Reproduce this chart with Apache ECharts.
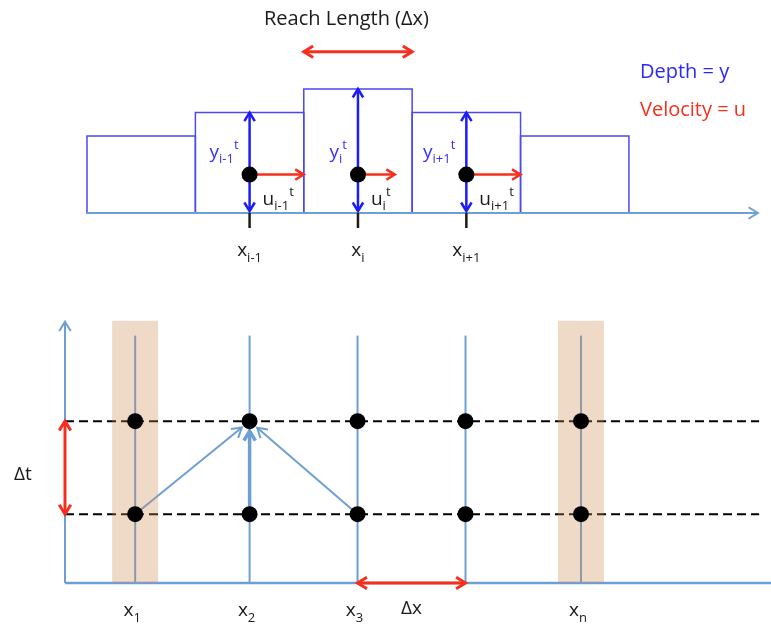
<!DOCTYPE html>
<html>
<head>
<meta charset="utf-8">
<script src="https://cdn.jsdelivr.net/npm/echarts@6/dist/echarts.min.js"></script>
<style>
  html, body { margin: 0; padding: 0; background: #fff; }
  #main { width: 771px; height: 624px; }
</style>
</head>
<body>
<div id="main"></div>
<script>
// --- top sketch: reach split into cells (x in cell widths, y in depth units)
const cellCenters = [0, 1, 2, 3, 4];
const cellDepths = [0.62, 0.81, 1.0, 0.81, 0.62];
const nodeCells = [1, 2, 3];
const nodeVelocities = [0.5, 0.34, 0.5];
const nodeHeight = 0.31;
const nodeNames = ['i-1', 'i', 'i+1'];
const reachSpan = [1.5, 2.5];
const reachLevel = 1.3;
const channelAxis = [-0.5, 5.69];

// --- bottom sketch: x-t grid (x in reach lengths, y in time steps)
const gridX = [0.65, 1.71, 2.71, 3.71, 4.78];
const gridXNames = ['1', '2', '3', '', 'n'];
const timeLevels = [0.74, 1.74];
const boundaryNodes = [0, 4];
const stencilFrom = [0, 1, 2];
const stencilTo = 1;
const gridLineTop = 2.66;
const bandTop = 2.82;
const timeAxisTop = 2.81;
const timeLineEnd = 6.43;
const dxNodes = [2, 3];

const FONT = '"Open Sans", sans-serif';
const BOX = '#4a4af2';
const DEPTH = '#1c1cf5';
const RED = '#f42f1d';
const AXIS = '#6e9fd4';
const BAND = 'rgba(205,140,85,0.32)';
const INK = '#1a1a1a';

var dom = document.getElementById('main');
var myChart = echarts.init(dom);

function seg(p0, p1, color, w, dash) {
  return {
    type: 'line',
    shape: { x1: p0[0], y1: p0[1], x2: p1[0], y2: p1[1] },
    style: { stroke: color, lineWidth: w, lineDash: dash || null }
  };
}
function head(tip, from, color, w, len) {
  const a = Math.atan2(tip[1] - from[1], tip[0] - from[0]);
  const s = 0.55;
  return {
    type: 'polyline',
    shape: { points: [
      [tip[0] - len * Math.cos(a - s), tip[1] - len * Math.sin(a - s)],
      [tip[0], tip[1]],
      [tip[0] - len * Math.cos(a + s), tip[1] - len * Math.sin(a + s)]
    ] },
    style: { stroke: color, lineWidth: w, fill: null }
  };
}
function arrow(p0, p1, color, w, len, both) {
  const out = [seg(p0, p1, color, w), head(p1, p0, color, w, len)];
  if (both) out.push(head(p0, p1, color, w, len));
  return out;
}
function shorten(p0, p1, d) {
  const dx = p1[0] - p0[0], dy = p1[1] - p0[1];
  const L = Math.sqrt(dx * dx + dy * dy);
  return [p1[0] - dx / L * d, p1[1] - dy / L * d];
}
function richFor(color, big, small) {
  return {
    b: { font: big + 'px ' + FONT, fill: color, lineHeight: big + 8 },
    sub: { font: small + 'px ' + FONT, fill: color, verticalAlign: 'bottom' },
    sup: { font: small + 'px ' + FONT, fill: color, verticalAlign: 'top' }
  };
}
function label(text, x, y, align, color) {
  return {
    type: 'text', x: x, y: y,
    style: {
      text: text, rich: richFor(color, 19, 13), fill: color,
      font: '19px ' + FONT, align: align, verticalAlign: 'middle'
    }
  };
}

var option = {
  animation: false,
  backgroundColor: '#fff',
  grid: [
    { left: 87, top: 39.4, width: 672, height: 223.2 },
    { left: 65, top: 313.3, width: 706, height: 269.7 }
  ],
  xAxis: [
    { type: 'value', gridIndex: 0, min: -0.5, max: 5.7, show: false },
    { type: 'value', gridIndex: 1, min: 0, max: 6.54, show: false }
  ],
  yAxis: [
    { type: 'value', gridIndex: 0, min: -0.4, max: 1.4, show: false },
    { type: 'value', gridIndex: 1, min: 0, max: 2.9, show: false }
  ],
  graphic: [
    { type: 'text', left: 264, top: 9,
      style: { text: 'Reach Length (\u0394x)', font: '20px ' + FONT, fill: INK } },
    { type: 'text', left: 640, top: 62,
      style: { text: 'Depth = y', font: '20px ' + FONT, fill: '#2a2af7' } },
    { type: 'text', left: 640, top: 100,
      style: { text: 'Velocity = u', font: '20px ' + FONT, fill: RED } }
  ],
  series: [
    // cells
    {
      type: 'custom', xAxisIndex: 0, yAxisIndex: 0,
      data: cellCenters.map((c, i) => [c, cellDepths[i]]),
      renderItem: function (params, api) {
        const tl = api.coord([api.value(0) - 0.5, api.value(1)]);
        const br = api.coord([api.value(0) + 0.5, 0]);
        return {
          type: 'rect',
          shape: { x: tl[0], y: tl[1], width: br[0] - tl[0], height: br[1] - tl[1] },
          style: { fill: null, stroke: BOX, lineWidth: 1.5 }
        };
      }
    },
    // channel axis + reach length arrow
    {
      type: 'custom', xAxisIndex: 0, yAxisIndex: 0,
      data: [[channelAxis[0], channelAxis[1]]],
      renderItem: function (params, api) {
        const a = api.coord([channelAxis[0], 0]);
        const b = api.coord([channelAxis[1], 0]);
        const r0 = api.coord([reachSpan[0], reachLevel]);
        const r1 = api.coord([reachSpan[1], reachLevel]);
        return {
          type: 'group',
          children: arrow(a, b, AXIS, 2, 11, false)
            .concat(arrow(r0, r1, RED, 3, 11, true))
        };
      }
    },
    // nodes of the reach
    {
      type: 'custom', xAxisIndex: 0, yAxisIndex: 0,
      data: nodeCells.map((c, i) => [c, nodeHeight, nodeVelocities[i]]),
      renderItem: function (params, api) {
        const i = params.dataIndex;
        const c = nodeCells[i];
        const base = api.coord([c, 0]);
        const top = api.coord([c, cellDepths[c]]);
        const dot = api.coord([c, nodeHeight]);
        const vel = api.coord([c + nodeVelocities[i], nodeHeight]);
        let kids = [seg(base, [base[0], base[1] + 15], INK, 2.5)];
        kids = kids.concat(arrow([base[0], base[1] - 2], top, DEPTH, 2.5, 10, true));
        kids = kids.concat(arrow(dot, vel, RED, 2.5, 10, false));
        kids.push({ type: 'circle', shape: { cx: dot[0], cy: dot[1], r: 8 }, style: { fill: '#000' } });
        kids.push(label('{b|y}{sub|' + nodeNames[i] + '}{sup|t}', dot[0] - 11, dot[1] - 22, 'right', '#3434f2'));
        kids.push(label('{b|u}{sub|' + nodeNames[i] + '}{sup|t}', dot[0] + 13, dot[1] + 25, 'left', INK));
        kids.push(label('{b|x}{sub|' + nodeNames[i] + '}', dot[0], base[1] + 38, 'center', INK));
        return { type: 'group', children: kids };
      }
    },
    // x-t axes and grid lines
    {
      type: 'custom', xAxisIndex: 1, yAxisIndex: 1,
      data: gridX.map(x => [x, gridLineTop]),
      renderItem: function (params, api) {
        const b = api.coord([api.value(0), 0]);
        const t = api.coord([api.value(0), api.value(1)]);
        return seg(b, t, AXIS, 2);
      }
    },
    {
      type: 'custom', xAxisIndex: 1, yAxisIndex: 1,
      data: [[0, timeAxisTop]],
      renderItem: function (params, api) {
        const o = api.coord([0, 0]);
        const t = api.coord([0, timeAxisTop]);
        const r = api.coord([6.54, 0]);
        return {
          type: 'group',
          children: [seg(o, r, AXIS, 2.5)].concat(arrow(o, t, AXIS, 2, 11, false))
        };
      }
    },
    // time levels
    {
      type: 'custom', xAxisIndex: 1, yAxisIndex: 1,
      data: timeLevels.map(t => [0, t]),
      renderItem: function (params, api) {
        const a = api.coord([0, api.value(1)]);
        const b = api.coord([timeLineEnd, api.value(1)]);
        return seg(a, b, '#000', 2, [9, 5]);
      }
    },
    // stencil
    {
      type: 'custom', xAxisIndex: 1, yAxisIndex: 1,
      data: stencilFrom.map(k => [gridX[k], timeLevels[0]]),
      renderItem: function (params, api) {
        const p0 = api.coord([api.value(0), api.value(1)]);
        const p1 = api.coord([gridX[stencilTo], timeLevels[1]]);
        const end = shorten(p0, p1, 10);
        const w = Math.abs(p1[0] - p0[0]) < 1 ? 3.5 : 2;
        return { type: 'group', children: arrow(p0, end, AXIS, w, 11, false) };
      }
    },
    // boundary bands
    {
      type: 'custom', xAxisIndex: 1, yAxisIndex: 1,
      data: boundaryNodes.map(k => [gridX[k], bandTop]),
      renderItem: function (params, api) {
        const t = api.coord([api.value(0), api.value(1)]);
        const b = api.coord([api.value(0), 0]);
        return {
          type: 'rect',
          shape: { x: t[0] - 23, y: t[1], width: 46, height: b[1] - t[1] },
          style: { fill: BAND }
        };
      }
    },
    // grid nodes
    {
      type: 'custom', xAxisIndex: 1, yAxisIndex: 1,
      data: timeLevels.flatMap(t => gridX.map(x => [x, t])),
      renderItem: function (params, api) {
        const p = api.coord([api.value(0), api.value(1)]);
        return { type: 'circle', shape: { cx: p[0], cy: p[1], r: 8 }, style: { fill: '#000' } };
      }
    },
    // dt and dx
    {
      type: 'custom', xAxisIndex: 1, yAxisIndex: 1,
      data: [[0, timeLevels[0]]],
      renderItem: function (params, api) {
        const t0 = api.coord([0, timeLevels[0]]);
        const t1 = api.coord([0, timeLevels[1]]);
        const x0 = api.coord([gridX[dxNodes[0]], 0]);
        const x1 = api.coord([gridX[dxNodes[1]], 0]);
        let kids = arrow(t0, t1, RED, 3, 11, true).concat(arrow(x0, x1, RED, 3, 11, true));
        kids.push({ type: 'text', x: t0[0] - 42, y: (t0[1] + t1[1]) / 2 + 7,
          style: { text: '\u0394t', font: '19px ' + FONT, fill: INK, align: 'center', verticalAlign: 'middle' } });
        kids.push({ type: 'text', x: (x0[0] + x1[0]) / 2, y: x0[1] + 26,
          style: { text: '\u0394x', font: '19px ' + FONT, fill: INK, align: 'center', verticalAlign: 'middle' } });
        return { type: 'group', children: kids };
      }
    },
    // x labels
    {
      type: 'custom', xAxisIndex: 1, yAxisIndex: 1,
      data: gridX.map(x => [x, 0]),
      renderItem: function (params, api) {
        const name = gridXNames[params.dataIndex];
        if (!name) return null;
        const p = api.coord([api.value(0), 0]);
        return label('{b|x}{sub|' + name + '}', p[0] - 3, p[1] + 28, 'center', INK);
      }
    }
  ]
};

if (option && typeof option === 'object') {
  myChart.setOption(option);
}
window.addEventListener('resize', myChart.resize);
</script>
</body>
</html>
